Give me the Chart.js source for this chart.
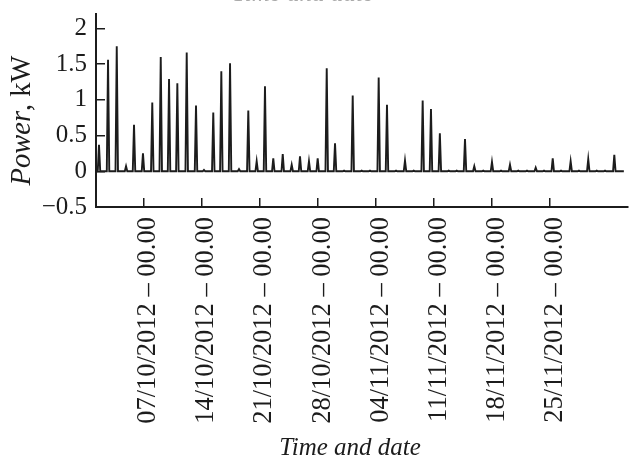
<!DOCTYPE html>
<html>
<head>
<meta charset="utf-8">
<script src="https://cdn.jsdelivr.net/npm/chart.js@4/dist/chart.umd.min.js"></script>
<style>
  html, body { margin: 0; padding: 0; background: #fff; }
  #wrap { width: 629px; height: 458px; position: relative; }
</style>
</head>
<body>
<div id="wrap"><canvas id="c"></canvas></div>
<script>
// Days since 01/10/2012 00:00 at which each daily spike occurs
const spikeDays = [0.66, 1.75, 2.80, 3.92, 4.88, 5.96, 7.08, 8.10, 9.10, 10.10,
  11.23, 12.35, 13.31, 14.43, 15.40, 16.45, 17.53, 18.65, 19.66, 20.66,
  21.66, 22.80, 23.88, 24.88, 25.96, 27.01, 28.10, 29.10, 30.19, 31.23,
  32.31, 33.31, 34.36, 35.36, 36.45, 37.53, 38.58, 39.66, 40.66, 41.73,
  42.80, 43.76, 44.76, 45.88, 46.96, 48.01, 49.10, 50.18, 51.18, 52.23,
  53.28, 54.28, 55.33, 56.33, 57.49, 58.49, 59.61, 60.63, 61.63, 62.75];
// Peak power of each spike, kW
const spikePeaks = [0.37, 1.56, 1.75, 0.07, 0.65, 0.25, 0.96, 1.60, 1.29, 1.23,
  1.66, 0.92, 0.02, 0.82, 1.40, 1.51, 0.03, 0.85, 0.14, 1.19,
  0.18, 0.24, 0.09, 0.21, 0.14, 0.18, 1.44, 0.39, 0.01, 1.06,
  0.01, 0.01, 1.31, 0.93, 0.01, 0.15, 0.01, 0.99, 0.87, 0.53,
  0.01, 0.01, 0.45, 0.07, 0.01, 0.13, 0.01, 0.09, 0.01, 0.01,
  0.05, 0.01, 0.18, 0.01, 0.14, 0.01, 0.17, 0.01, 0.01, 0.23];
const seriesStart = 0.3;
const seriesEnd = 63.9;

const xTickValues = [6, 13, 20, 27, 34, 41, 48, 55];
const xTickLabels = ['07/10/2012 – 00.00', '14/10/2012 – 00.00', '21/10/2012 – 00.00',
  '28/10/2012 – 00.00', '04/11/2012 – 00.00', '11/11/2012 – 00.00',
  '18/11/2012 – 00.00', '25/11/2012 – 00.00'];
const yTickValues = [-0.5, 0, 0.5, 1, 1.5, 2];
const yTickLabels = ['\u22120.5', '0', '0.5', '1', '1.5', '2'];

const xMin = 0.3, xMax = 64.4, yMin = -0.5, yMax = 2.2;

const points = [{x: seriesStart, y: 0}];
spikeDays.forEach((d, i) => {
  points.push({x: d - 0.15, y: 0}, {x: d, y: spikePeaks[i]}, {x: d + 0.15, y: 0});
});
points.push({x: seriesEnd, y: 0});

const ink = '#1c1c1c';
const serif = '"Liberation Serif", "Times New Roman", serif';

const textPlugin = {
  id: 'texts',
  afterDraw(chart) {
    const ctx = chart.ctx;
    const ca = chart.chartArea;
    ctx.save();
    ctx.fillStyle = ink;
    // y-axis title: "Power" italic + ", kW" regular
    ctx.save();
    ctx.translate(30, (ca.top + ca.bottom) / 2 + 10);
    ctx.rotate(-Math.PI / 2);
    ctx.textBaseline = 'alphabetic';
    ctx.textAlign = 'left';
    ctx.font = 'italic 28.5px ' + serif;
    const w1 = ctx.measureText('Power').width;
    ctx.font = '28.5px ' + serif;
    const w2 = ctx.measureText(', kW').width;
    const x0 = -(w1 + w2) / 2;
    ctx.font = 'italic 28.5px ' + serif;
    ctx.fillText('Power', x0, 0);
    ctx.font = '28.5px ' + serif;
    ctx.fillText(', kW', x0 + w1, 0);
    ctx.restore();
    // x-axis title
    ctx.font = 'italic 25px ' + serif;
    ctx.textAlign = 'center';
    ctx.textBaseline = 'alphabetic';
    ctx.fillText('Time and date', (ca.left + ca.right) / 2 - 12, 455);
    // cut-off title at top
    ctx.fillStyle = '#aaa';
    ctx.fillText('Time and date', 303, 0.5);
    ctx.restore();
  }
};

new Chart(document.getElementById('c'), {
  type: 'line',
  data: {
    datasets: [{
      data: points,
      borderColor: ink,
      borderWidth: 1.9,
      pointRadius: 0,
      tension: 0,
      fill: false
    }]
  },
  options: {
    responsive: true,
    maintainAspectRatio: false,
    animation: false,
    layout: { padding: { top: 14, right: 1, left: 0, bottom: 0 } },
    plugins: { legend: { display: false }, tooltip: { enabled: false }, title: { display: false } },
    scales: {
      x: {
        type: 'linear',
        min: xMin,
        max: xMax,
        afterBuildTicks: (s) => { s.ticks = xTickValues.map(v => ({value: v})); },
        afterFit: (s) => { s.height = 251; s.paddingLeft = 0; s.paddingRight = 0; },
        grid: { display: true, drawOnChartArea: false, drawTicks: true, tickLength: -9, color: ink, lineWidth: 1.5 },
        border: { display: true, color: ink, width: 2 },
        ticks: {
          autoSkip: false,
          minRotation: 90,
          maxRotation: 90,
          padding: 19,
          labelOffset: 5,
          color: ink,
          font: { family: serif, size: 26.5 },
          callback: (v, i) => xTickLabels[i]
        }
      },
      y: {
        type: 'linear',
        min: yMin,
        max: yMax,
        afterBuildTicks: (s) => { s.ticks = yTickValues.map(v => ({value: v})); },
        afterFit: (s) => { s.width = 96; s.paddingTop = 0; s.paddingBottom = 0; },
        grid: { display: true, drawOnChartArea: false, drawTicks: true, tickLength: -9, color: ink, lineWidth: 1.5 },
        border: { display: true, color: ink, width: 2 },
        ticks: {
          padding: 18,
          color: ink,
          font: { family: serif, size: 25 },
          callback: (v, i) => yTickLabels[i]
        }
      }
    }
  },
  plugins: [textPlugin]
});
</script>
</body>
</html>
